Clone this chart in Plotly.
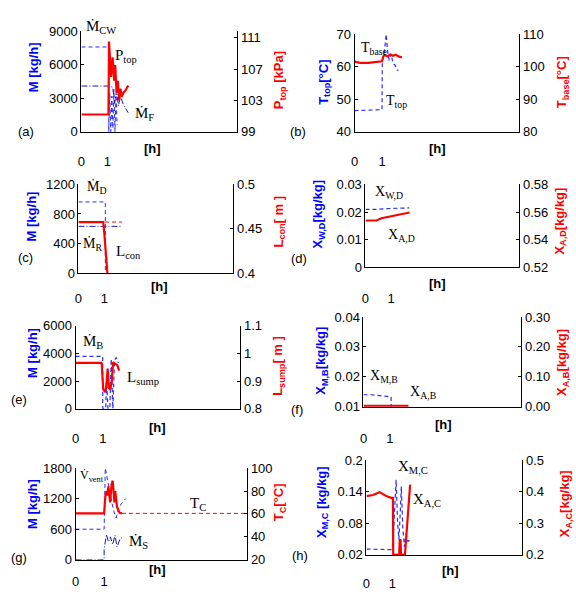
import plotly.graph_objects as go

# ---------------- data (time in h) ----------------
# (a)
t_mcw = [0, 1.05, 1.05, 1.09, 1.13, 1.17, 1.21, 1.25, 1.29, 1.33, 1.37]
m_cw = [7600, 7600, 0, 3500, 0, 3200, 300, 3800, 0, 3300, 600]
t_mf = [0, 1.05, 1.2, 1.28, 1.35, 1.42, 1.5, 1.6, 1.7, 1.8]
m_f = [4100, 4100, 4000, 2600, 3700, 2300, 3200, 2500, 2100, 1700]
t_ptop = [0, 1.04, 1.06, 1.1, 1.14, 1.2, 1.26, 1.3, 1.35, 1.4, 1.45, 1.5, 1.55, 1.62, 1.7, 1.8]
p_top = [101.2, 101.2, 110.5, 108, 106, 108.5, 105.5, 107.5, 104, 105.5, 103, 104.5, 103.5, 104, 104.3, 104.9]
# (b)
t_ttop = [0, 1.0, 1.01, 1.08, 1.15, 1.2, 1.26, 1.33, 1.4, 1.48, 1.55, 1.6]
T_top = [46.5, 46.8, 62, 64, 70, 65, 62, 64, 61, 60.5, 59, 59]
t_tbase = [0, 0.2, 0.5, 0.8, 1.0, 1.05, 1.1, 1.2, 1.3, 1.4, 1.5, 1.6, 1.72]
T_base = [101.6, 101.2, 101.2, 101.6, 101.7, 103.3, 103.6, 103.2, 103.8, 103.4, 103.7, 103.2, 102.9]
# (c)
t_md = [0, 1.04, 1.04]
m_d = [963, 963, 0]
t_mr = [0, 1.69]
m_r = [633, 633]
t_lcon = [0, 0.96, 1.0, 1.06, 1.12]
l_con = [0.4576, 0.4576, 0.445, 0.42, 0.4]
t_lcon_sp = [1.03, 1.69]
l_con_sp = [0.4576, 0.4576]
# (d)
t_xwd = [0, 0.4, 1.0, 1.7]
x_wd = [0.0210, 0.0210, 0.0213, 0.0215]
t_xad = [0, 0.43, 0.62, 1.14, 1.72]
x_ad = [0.5539, 0.5539, 0.5555, 0.5574, 0.5597]
# (e)
t_mb = [0, 0.99, 0.99, 1.1, 1.13, 1.18, 1.25, 1.3, 1.36, 1.42, 1.48, 1.56]
m_b = [3790, 3790, 0, 0, 2200, 0, 0, 3600, 0, 3500, 3700, 3300]
t_lsump = [0, 0.95, 1.01, 1.08, 1.12, 1.17, 1.22, 1.27, 1.32, 1.37, 1.45, 1.52, 1.59]
l_sump = [0.966, 0.966, 0.87, 0.86, 0.88, 0.945, 0.875, 0.87, 0.9, 0.968, 0.962, 0.958, 0.938]
# (f)
t_xmb = [0, 0.3, 1.05, 1.05, 1.1]
x_mb = [0.0140, 0.0140, 0.0133, 0.0102, 0.0102]
t_xab = [0, 1.71]
x_ab = [0.003, 0.003]
# (g)
t_vvent = [0, 1.0, 1.04, 1.1, 1.18, 1.26, 1.34, 1.42, 1.5, 1.6, 1.75]
v_vent = [600, 600, 1800, 1600, 1350, 1150, 950, 820, 1000, 1100, 1200]
t_ms = [0, 1.0, 1.0, 1.08, 1.15, 1.22, 1.3, 1.38, 1.45, 1.55, 1.65]
m_s = [0, 0, 200, 500, 350, 450, 300, 480, 250, 400, 450]
t_tc = [0, 1.0, 1.04, 1.08, 1.11, 1.15, 1.21, 1.26, 1.3, 1.33, 1.36, 1.39, 1.45, 1.54, 1.62]
T_c = [60.5, 60.5, 75, 80, 76, 84, 70, 86, 89, 80, 70, 80, 66, 61, 60.5]
t_tc_sp = [1.62, 6.0]
T_c_sp = [60.5, 60.5]
# (h)
t_xmc = [0, 0.95, 1.02, 1.1, 1.14, 1.2, 1.25, 1.3, 1.34, 1.4, 1.46, 1.52, 1.6, 1.68]
x_mc = [0.031, 0.030, 0.04, 0.12, 0.163, 0.08, 0.05, 0.10, 0.15, 0.07, 0.035, 0.06, 0.045, 0.05]
t_xac = [0, 0.25, 0.51, 0.76, 0.95, 1.02, 1.03, 1.26, 1.28, 1.31, 1.33, 1.48, 1.68]
x_ac = [0.3865, 0.39, 0.399, 0.3865, 0.381, 0.381, 0.2, 0.2, 0.247, 0.247, 0.2, 0.2, 0.423]

# x tick labels
x_tickvals = [0, 1]
x_ticktext = ["0", "1"]

# ---------------- layout helpers ----------------
W, H = 576, 597
BLUE = "#2a2aff"
NAVY = "#1a1aa8"
RED = "#ff0000"
SANS = "Liberation Sans, Arial, sans-serif"
SERIF = "Liberation Serif, Times New Roman, serif"


def fx(px):
    return px / W


def fy(py):
    return 1 - py / H


panels = [
    dict(box=(78, 235, 25, 128), yl=([0, 9000], [0, 3000, 6000, 9000], ["0", "3000", "6000", "9000"]),
         yr=([99, 111.8], [99, 103, 107, 111], ["99", "103", "107", "111"]),
         lt=("M [kg/h]", 30, 62), rt=("P<sub>top</sub> [kPa]", 277, 75), lab=("(a)", 22, 128),
         h=(150, 145), tick_y=157),
    dict(box=(353, 519, 28, 128), yl=([40, 70], [40, 50, 60, 70], ["40", "50", "60", "70"]),
         yr=([80, 110], [80, 90, 100, 110], ["80", "90", "100", "110"]),
         lt=("T<sub>top</sub>[°C]", 322, 77), rt=("T<sub>base</sub>[°C]", 562, 77), lab=("(b)", 296, 128),
         h=(437, 145), tick_y=157),
    dict(box=(75, 231, 182, 273), yl=([0, 1200], [0, 400, 800, 1200], ["0", "400", "800", "1200"]),
         yr=([0.4, 0.5], [0.4, 0.45, 0.5], ["0.4", "0.45", "0.5"]),
         lt=("M [kg/h]", 28, 215), rt=("L<sub>con</sub>[ m ]", 277, 220), lab=("(c)", 22, 257),
         h=(157, 287), tick_y=297),
    dict(box=(364, 519, 182, 267), yl=([0, 0.03], [0, 0.01, 0.02, 0.03], ["0", "0.01", "0.02", "0.03"]),
         yr=([0.52, 0.58], [0.52, 0.54, 0.56, 0.58], ["0.52", "0.54", "0.56", "0.58"]),
         lt=("X<sub>W,D</sub>[kg/kg]", 317, 213), rt=("X<sub>A,D</sub>[kg/kg]", 560, 220), lab=("(d)", 297, 258),
         h=(437, 284), tick_y=297),
    dict(box=(72, 238, 327, 412), yl=([0, 6000], [0, 2000, 4000, 6000], ["0", "2000", "4000", "6000"]),
         yr=([0.8, 1.1], [0.8, 0.9, 1.0, 1.1], ["0.8", "0.9", "1", "1.1"]),
         lt=("M [kg/h]", 28, 355), rt=("L<sub>sump</sub>[ m ]", 277, 368), lab=("(e)", 15, 403),
         h=(155, 431), tick_y=441),
    dict(box=(362, 521, 318, 410), yl=([0.01, 0.04], [0.01, 0.02, 0.03, 0.04], ["0.01", "0.02", "0.03", "0.04"]),
         yr=([0, 0.3], [0, 0.1, 0.2, 0.3], ["0.00", "0.10", "0.20", "0.30"]),
         lt=("X<sub>M,B</sub>[kg/kg]", 320, 363), rt=("X<sub>A,B</sub>[kg/kg]", 563, 365), lab=("(f)", 295, 413),
         h=(443, 428), tick_y=441),
    dict(box=(72, 245, 473, 567), yl=([0, 1800], [0, 600, 1200, 1800], ["0", "600", "1200", "1800"]),
         yr=([20, 100], [20, 40, 60, 80, 100], ["20", "40", "60", "80", "100"]),
         lt=("M [kg/h]", 28, 510), rt=("T<sub>C</sub>[°C]", 277, 508), lab=("(g)", 15, 565),
         h=(155, 577), tick_y=588),
    dict(box=(365, 522, 465, 562), yl=([0.02, 0.2], [0.02, 0.08, 0.14, 0.2], ["0.02", "0.08", "0.14", "0.2"]),
         yr=([0.2, 0.5], [0.2, 0.3, 0.4, 0.5], ["0.2", "0.3", "0.4", "0.5"]),
         lt=("X<sub>M,C</sub> [kg/kg]", 320, 508), rt=("X<sub>A,C</sub>[kg/kg]", 565, 510), lab=("(h)", 298, 563),
         h=(450, 578), tick_y=590),
]

# (panel, side, t, v, color, dash, width)
series = [
    (0, "l", t_mcw, m_cw, BLUE, "4px,3px", 1),
    (0, "l", t_mf, m_f, NAVY, "6px,2px,1px,2px", 1),
    (0, "r", t_ptop, p_top, RED, "solid", 2.2),
    (1, "l", t_ttop, T_top, BLUE, "4px,3px", 1.2),
    (1, "r", t_tbase, T_base, RED, "solid", 2.2),
    (2, "l", t_md, m_d, BLUE, "4px,3px", 1),
    (2, "l", t_mr, m_r, NAVY, "6px,2px,1px,2px", 1),
    (2, "r", t_lcon_sp, l_con_sp, RED, "4px,3px", 1),
    (2, "r", t_lcon, l_con, RED, "solid", 2.2),
    (3, "l", t_xwd, x_wd, BLUE, "4px,3px", 1.2),
    (3, "r", t_xad, x_ad, RED, "solid", 2.2),
    (4, "l", t_mb, m_b, BLUE, "4px,3px", 1.2),
    (4, "r", t_lsump, l_sump, RED, "solid", 2.2),
    (5, "l", t_xmb, x_mb, BLUE, "4px,3px", 1.2),
    (5, "r", t_xab, x_ab, RED, "solid", 2.2),
    (6, "l", t_vvent, v_vent, BLUE, "4px,3px", 1),
    (6, "l", t_ms, m_s, NAVY, "6px,2px,1px,2px", 1),
    (6, "r", t_tc_sp, T_c_sp, RED, "4px,3px", 1),
    (6, "r", t_tc, T_c, RED, "solid", 2.2),
    (7, "l", t_xmc, x_mc, BLUE, "4px,3px", 1.2),
    (7, "r", t_xac, x_ac, RED, "solid", 2.2),
]

# in-plot labels: (text, left px, center y px, size)
labels = [
    ("Ṁ<sub>CW</sub>", 81, 21, 15), ("P<sub>top</sub>", 110, 50, 15), ("Ṁ<sub>F</sub>", 130, 110, 15),
    ("T<sub>base</sub>", 357, 43, 14), ("T<sub>top</sub>", 383, 97, 14),
    ("Ṁ<sub>D</sub>", 82, 185, 14), ("Ṁ<sub>R</sub>", 78, 244, 14), ("L<sub>con</sub>", 111, 251, 15),
    ("X<sub>W,D</sub>", 372, 190, 14), ("X<sub>A,D</sub>", 385, 234, 14),
    ("Ṁ<sub>B</sub>", 78, 344, 15), ("L<sub>sump</sub>", 122, 381, 15),
    ("X<sub>M,B</sub>", 367, 379, 14), ("X<sub>A,B</sub>", 407, 395, 14),
    ("V̇<sub>vent</sub>", 75, 481, 12), ("T<sub>C</sub>", 185, 510, 15), ("Ṁ<sub>S</sub>", 124, 549, 15),
    ("X<sub>M,C</sub>", 395, 472, 15), ("X<sub>A,C</sub>", 410, 506, 15),
]

fig = go.Figure()
layout = dict(width=W, height=H, autosize=False, margin=dict(l=0, r=0, t=0, b=0),
              paper_bgcolor="white", plot_bgcolor="white", showlegend=False)
annotations = []

for i, p in enumerate(panels):
    k = i + 1
    xl, xr, yt, yb = p["box"]
    xname = "xaxis" if k == 1 else f"xaxis{k}"
    yl_idx, yr_idx = 2 * k - 1, 2 * k
    ylname = "yaxis" if yl_idx == 1 else f"yaxis{yl_idx}"
    yrname = f"yaxis{yr_idx}"
    xref = "x" if k == 1 else f"x{k}"
    ylref = "y" if yl_idx == 1 else f"y{yl_idx}"
    layout[xname] = dict(domain=[fx(xl), fx(xr)], anchor=ylref, range=[0, 6], showgrid=False,
                         zeroline=False, showline=True, linecolor="black", linewidth=1, ticks="",
                         tickvals=x_tickvals, ticktext=x_ticktext,
                         tickfont=dict(family=SANS, size=13, color="black"),
                         ticklabelstandoff=max(0, p["tick_y"] - yb - 11))
    rng, tv, tt = p["yl"]
    layout[ylname] = dict(domain=[fy(yb), fy(yt)], anchor=xref, range=rng, showgrid=False, zeroline=False,
                          showline=True, linecolor="black", linewidth=1, ticks="inside", ticklen=3,
                          tickcolor="black", tickvals=tv, ticktext=tt,
                          tickfont=dict(family=SANS, size=13, color="black"))
    rng, tv, tt = p["yr"]
    layout[yrname] = dict(overlaying=ylref, side="right", anchor=xref, range=rng, showgrid=False,
                          zeroline=False, showline=True, linecolor="black", linewidth=1, ticks="inside",
                          ticklen=3, tickcolor="black", tickvals=tv, ticktext=tt,
                          tickfont=dict(family=SANS, size=13, color="black"))
    # axis titles
    txt, ax, ay = p["lt"]
    annotations.append(dict(text=f"<b>{txt}</b>", x=fx(ax), y=fy(ay), xref="paper", yref="paper",
                            textangle=-90, showarrow=False, xanchor="center", yanchor="middle",
                            font=dict(family=SANS, size=13, color="#0000ff")))
    txt, ax, ay = p["rt"]
    annotations.append(dict(text=f"<b>{txt}</b>", x=fx(ax), y=fy(ay), xref="paper", yref="paper",
                            textangle=-90, showarrow=False, xanchor="center", yanchor="middle",
                            font=dict(family=SANS, size=13, color=RED)))
    txt, ax, ay = p["lab"]
    annotations.append(dict(text=txt, x=fx(ax), y=fy(ay), xref="paper", yref="paper", showarrow=False,
                            xanchor="center", yanchor="middle", font=dict(family=SANS, size=13, color="black")))
    hx, hy = p["h"]
    annotations.append(dict(text="<b>[h]</b>", x=fx(hx), y=fy(hy), xref="paper", yref="paper",
                            showarrow=False, xanchor="center", yanchor="middle",
                            font=dict(family=SANS, size=13, color="black")))

for (pi, side, t, v, color, dash, width) in series:
    k = pi + 1
    xref = "x" if k == 1 else f"x{k}"
    yidx = 2 * k - 1 if side == "l" else 2 * k
    yref = "y" if yidx == 1 else f"y{yidx}"
    fig.add_trace(go.Scatter(x=t, y=v, mode="lines", xaxis=xref, yaxis=yref,
                             line=dict(color=color, dash=dash, width=width), hoverinfo="skip"))

for (txt, lx, ly, sz) in labels:
    annotations.append(dict(text=txt, x=fx(lx), y=fy(ly), xref="paper", yref="paper", showarrow=False,
                            xanchor="left", yanchor="middle", font=dict(family=SERIF, size=sz, color="black")))

layout["annotations"] = annotations
fig.update_layout(**layout)
fig.write_html("out.html", config={"displayModeBar": False, "staticPlot": True},
               post_script="document.body.style.margin='0px';document.body.style.overflow='hidden';")
